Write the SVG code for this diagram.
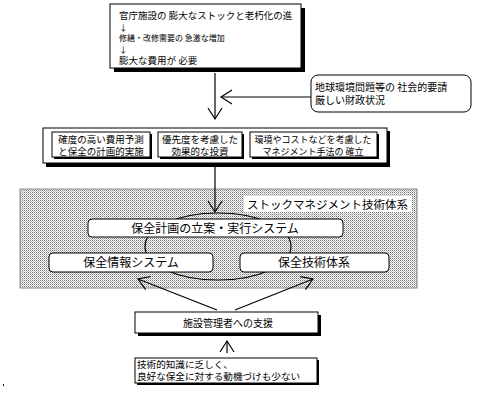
<svg xmlns="http://www.w3.org/2000/svg" width="500" height="403" viewBox="0 0 500 403">
<defs>
<pattern id="dots" width="2" height="2" patternUnits="userSpaceOnUse">
<rect width="2" height="2" fill="#ffffff"/>
<rect width="1" height="1" fill="#777777"/>
<rect x="1" y="1" width="1" height="1" fill="#bbbbbb"/>
</pattern>
<marker id="ah" markerUnits="userSpaceOnUse" markerWidth="14" markerHeight="16" refX="12" refY="8" orient="auto">
<path d="M1,1 L12,8 L1,15" fill="none" stroke="#000" stroke-width="1.2"/>
</marker>
</defs>
<style>
text{font-family:"Noto Sans CJK JP","Noto Sans CJK SC",sans-serif;fill:#000}
.box{fill:#fff;stroke:#000;stroke-width:1}
.sh{fill:#000}
.ln{fill:none;stroke:#000;stroke-width:1.2}
.c{text-anchor:middle}
</style>
<rect width="500" height="403" fill="#fff"/>

<g id="background-area">
<rect x="20" y="189" width="397" height="99" fill="url(#dots)" stroke="#888" stroke-width="1"/>
<rect x="244" y="196" width="168" height="16" fill="#fff"/>
<text x="247" y="208.5" font-size="11.5">ストックマネジメント技術体系</text>
<ellipse cx="218" cy="246.5" rx="73" ry="33.5" fill="none" stroke="#000" stroke-width="1.2"/>
</g>

<g id="connectors">
<line class="ln" x1="215" y1="73" x2="215" y2="119" marker-end="url(#ah)"/>
<line class="ln" x1="311" y1="97" x2="221" y2="97" marker-end="url(#ah)"/>
<line class="ln" x1="215" y1="167" x2="215" y2="212" marker-end="url(#ah)"/>
<line class="ln" x1="217" y1="310" x2="138" y2="279" marker-end="url(#ah)"/>
<line class="ln" x1="235" y1="310" x2="313" y2="279" marker-end="url(#ah)"/>
<line class="ln" x1="227" y1="353" x2="227" y2="341" marker-end="url(#ah)"/>
</g>

<g id="node-top">
<rect class="sh" x="114" y="8" width="191" height="64"/>
<rect class="box" x="110" y="4" width="191" height="64"/>
<text x="119" y="19" font-size="9.5">官庁施設の 膨大なストックと老朽化の進</text>
<text x="119" y="30.5" font-size="8.5">↓</text>
<text x="119" y="41" font-size="8">修繕・改修需要の 急激な増加</text>
<text x="119" y="53" font-size="8.5">↓</text>
<text x="119" y="64" font-size="9.5">膨大な費用が 必要</text>
</g>

<g id="node-society">
<rect class="box" x="311" y="75" width="160" height="37" rx="7"/>
<text x="315" y="90.5" font-size="10">地球環境問題等の 社会的要請</text>
<text x="315" y="104" font-size="10">厳しい財政状況</text>
</g>

<g id="node-goals">
<rect class="sh" x="46" y="131" width="344" height="36"/>
<rect class="box" x="43" y="128" width="344" height="35"/>
<rect class="sh" x="54" y="134" width="98" height="25"/>
<rect class="box" x="52" y="132" width="98" height="25"/>
<text class="c" x="101" y="142.5" font-size="9.5">確度の高い費用予測</text>
<text class="c" x="101" y="154.5" font-size="9.5">と保全の計画的実施</text>
<rect class="sh" x="160" y="134" width="84" height="25"/>
<rect class="box" x="158" y="132" width="84" height="25"/>
<text class="c" x="200" y="142.5" font-size="9.5">優先度を考慮した</text>
<text class="c" x="200" y="154.5" font-size="9.5">効果的な投資</text>
<rect class="sh" x="252" y="134" width="127" height="25"/>
<rect class="box" x="250" y="132" width="127" height="25"/>
<text class="c" x="313" y="142.5" font-size="9">環境やコストなどを考慮した</text>
<text class="c" x="313" y="154.5" font-size="9">マネジメント手法の 確立</text>
</g>

<g id="node-plan">
<rect class="box" x="88" y="219" width="255" height="18" rx="4"/>
<text class="c" x="215" y="232.5" font-size="12">保全計画の立案・実行システム</text>
</g>

<g id="node-info">
<rect class="box" x="49" y="253" width="164" height="19" rx="4"/>
<text class="c" x="131" y="267" font-size="12">保全情報システム</text>
</g>

<g id="node-tech">
<rect class="box" x="240" y="253" width="149" height="19" rx="4"/>
<text class="c" x="314" y="267" font-size="12">保全技術体系</text>
</g>

<g id="node-support">
<rect class="sh" x="138" y="315" width="183" height="21"/>
<rect class="box" x="135" y="312" width="183" height="21"/>
<text class="c" x="228" y="327" font-size="10">施設管理者への支援</text>
</g>

<g id="node-managers">
<rect class="sh" x="137" y="360" width="182" height="25"/>
<rect class="box" x="135" y="358" width="182" height="25"/>
<text x="137" y="368" font-size="9.6">技術的知識に乏しく、</text>
<text x="137" y="380" font-size="9.6">良好な保全に対する動機づけも少ない</text>
</g>

<rect x="3" y="384" width="1" height="2" fill="#000"/>
</svg>
